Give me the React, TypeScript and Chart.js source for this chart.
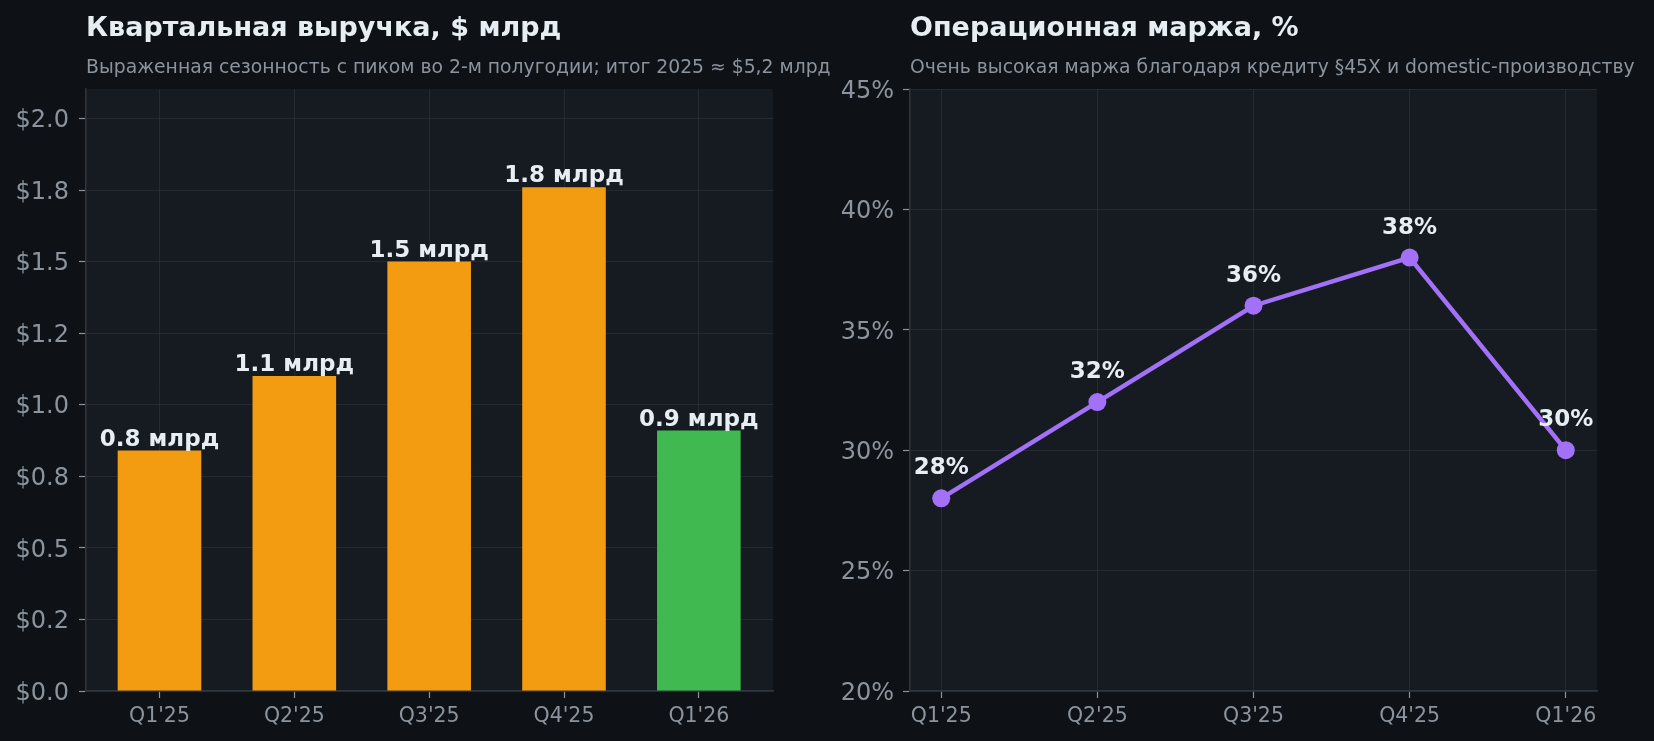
import React, { useEffect, useRef } from 'react';
import { Chart, registerables } from 'chart.js';

Chart.register(...registerables);

const QUARTERS = ["Q1'25", "Q2'25", "Q3'25", "Q4'25", "Q1'26"];
const REVENUE = [0.84, 1.1, 1.5, 1.76, 0.91];
const REVENUE_TICKS = [0, 0.25, 0.5, 0.75, 1.0, 1.25, 1.5, 1.75, 2.0];
const REVENUE_TICK_LABELS = ['$0.0', '$0.2', '$0.5', '$0.8', '$1.0', '$1.2', '$1.5', '$1.8', '$2.0'];
const MARGIN = [28, 32, 36, 38, 30];
const MARGIN_TICKS = [20, 25, 30, 35, 40, 45];

const PAGE_BG = '#0e1217';
const PLOT_BG = '#161b22';
const GRID = 'rgba(48,54,61,0.6)';
const SPINE = '#30363d';
const TICK_TEXT = '#8b949e';
const TITLE_TEXT = '#e6edf3';
const ORANGE = '#f39c12';
const GREEN = '#3fb950';
const PURPLE = '#a371f7';
const FONT = '"DejaVu Sans", sans-serif';

Chart.defaults.font.family = FONT;

const panelPlugin = (id: string, title: string, subtitle: string) => ({
  id,
  beforeDraw(chart: Chart) {
    const { ctx, chartArea } = chart;
    ctx.save();
    ctx.fillStyle = PLOT_BG;
    ctx.fillRect(chartArea.left, chartArea.top, chartArea.right - chartArea.left, chartArea.bottom - chartArea.top);
    ctx.textAlign = 'left';
    ctx.textBaseline = 'alphabetic';
    ctx.fillStyle = TITLE_TEXT;
    ctx.font = `bold 27px ${FONT}`;
    ctx.fillText(title, chartArea.left, 36);
    ctx.fillStyle = TICK_TEXT;
    ctx.font = `18.8px ${FONT}`;
    ctx.fillText(subtitle, chartArea.left, 72.5);
    ctx.restore();
  },
});

// value labels above bars / points
const labelPlugin = (id: string, fmt: (v: number) => string, gap: number) => ({
  id,
  afterDatasetsDraw(chart: Chart) {
    const { ctx } = chart;
    const meta = chart.getDatasetMeta(0);
    const values = chart.data.datasets[0].data as any[];
    ctx.save();
    ctx.fillStyle = TITLE_TEXT;
    ctx.font = `bold 23px ${FONT}`;
    ctx.textAlign = 'center';
    ctx.textBaseline = 'alphabetic';
    meta.data.forEach((el: any, i: number) => {
      ctx.fillText(fmt(values[i].y), el.x, el.y - gap);
    });
    ctx.restore();
  },
});

const App: React.FC = () => {
  const barRef = useRef<HTMLCanvasElement>(null);
  const lineRef = useRef<HTMLCanvasElement>(null);

  useEffect(() => {
    if (!barRef.current || !lineRef.current) return;

    const barChart = new Chart(barRef.current, {
      type: 'bar',
      data: {
        datasets: [
          {
            data: REVENUE.map((y, x) => ({ x, y })),
            backgroundColor: REVENUE.map((_, i) => (i === REVENUE.length - 1 ? GREEN : ORANGE)),
            borderWidth: 0,
            categoryPercentage: 1,
            barPercentage: 0.62,
          },
        ],
      },
      options: {
        responsive: true,
        maintainAspectRatio: false,
        animation: false,
        layout: { padding: { top: 89, right: 107, left: 0, bottom: 0 } },
        plugins: { legend: { display: false }, tooltip: { enabled: false } },
        scales: {
          x: {
            type: 'linear',
            offset: false,
            min: -0.545,
            max: 4.55,
            grid: { color: GRID, offset: false, tickColor: TICK_TEXT, tickLength: 7, tickWidth: 1.2 },
            border: { color: SPINE, width: 1.5 },
            afterBuildTicks: (axis: any) => { axis.ticks = QUARTERS.map((_, value) => ({ value })); },
            ticks: { color: TICK_TEXT, font: { size: 20.5 }, padding: 6, maxRotation: 0, callback: (v: any) => QUARTERS[v] },
            afterFit: (axis: any) => { axis.height = 50; },
          },
          y: {
            min: 0,
            max: 2.103,
            grid: { color: GRID, tickColor: TICK_TEXT, tickLength: 7, tickWidth: 1.2 },
            border: { color: SPINE, width: 1.5 },
            afterBuildTicks: (axis: any) => { axis.ticks = REVENUE_TICKS.map((value) => ({ value })); },
            ticks: {
              color: TICK_TEXT,
              font: { size: 24 },
              padding: 10,
              labelOffset: 2.5,
              callback: (_v: any, i: number) => REVENUE_TICK_LABELS[i],
            },
            afterFit: (axis: any) => { axis.width = 86; },
          },
        },
      },
      plugins: [
        panelPlugin('panelBar', 'Квартальная выручка, $ млрд', 'Выраженная сезонность с пиком во 2-м полугодии; итог 2025 ≈ $5,2 млрд'),
        labelPlugin('barLabels', (v) => `${v.toFixed(1)} млрд`, 5),
      ],
    });

    const lineChart = new Chart(lineRef.current, {
      type: 'line',
      data: {
        datasets: [
          {
            data: MARGIN.map((y, x) => ({ x, y })),
            borderColor: PURPLE,
            backgroundColor: PURPLE,
            borderWidth: 4.5,
            pointRadius: 9,
            pointBorderWidth: 0,
            pointBackgroundColor: PURPLE,
            tension: 0,
          },
        ],
      },
      options: {
        responsive: true,
        maintainAspectRatio: false,
        animation: false,
        layout: { padding: { top: 89, right: 57, left: 0, bottom: 0 } },
        plugins: { legend: { display: false }, tooltip: { enabled: false } },
        scales: {
          x: {
            type: 'linear',
            min: -0.2,
            max: 4.2,
            grid: { color: GRID, tickColor: TICK_TEXT, tickLength: 7, tickWidth: 1.2 },
            border: { color: SPINE, width: 1.5 },
            afterBuildTicks: (axis: any) => { axis.ticks = QUARTERS.map((_, value) => ({ value })); },
            ticks: {
              color: TICK_TEXT,
              font: { size: 20.5 },
              padding: 6,
              maxRotation: 0,
              callback: (v: any) => QUARTERS[v],
            },
            afterFit: (axis: any) => { axis.height = 50; },
          },
          y: {
            min: 20,
            max: 45,
            grid: { color: GRID, tickColor: TICK_TEXT, tickLength: 7, tickWidth: 1.2 },
            border: { color: SPINE, width: 1.5 },
            afterBuildTicks: (axis: any) => { axis.ticks = MARGIN_TICKS.map((value) => ({ value })); },
            ticks: { color: TICK_TEXT, font: { size: 24 }, padding: 9, labelOffset: 2.5, callback: (v: any) => `${v}%` },
            afterFit: (axis: any) => { axis.width = 83; },
          },
        },
      },
      plugins: [
        panelPlugin('panelLine', 'Операционная маржа, %', 'Очень высокая маржа благодаря кредиту §45X и domestic-производству'),
        labelPlugin('lineLabels', (v) => `${v}%`, 24),
      ],
    });

    return () => {
      barChart.destroy();
      lineChart.destroy();
    };
  }, []);

  return (
    <div style={{ position: 'fixed', left: 0, top: 0, width: 1654, height: 741, background: PAGE_BG, overflow: 'hidden' }}>
      <div style={{ position: 'absolute', left: 0, top: 0, width: 880, height: 741 }}>
        <canvas ref={barRef} />
      </div>
      <div style={{ position: 'absolute', left: 827, top: 0, width: 827, height: 741 }}>
        <canvas ref={lineRef} />
      </div>
    </div>
  );
};

export default App;
